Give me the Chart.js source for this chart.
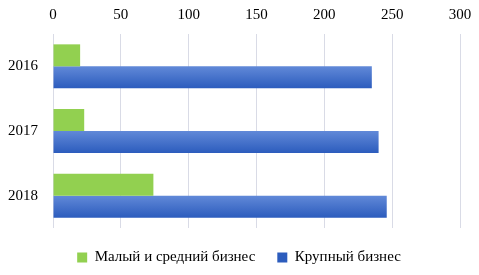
<!DOCTYPE html>
<html><head><meta charset="utf-8">
<script src="https://cdn.jsdelivr.net/npm/chart.js@4/dist/chart.umd.min.js"></script>
<style>html,body{margin:0;padding:0;background:#fff}#w{width:479px;height:275px}</style>
</head><body><div id="w"><canvas id="c"></canvas></div>
<script>
const categories = ["2016", "2017", "2018"];
const smallMediumBusiness = [20, 23, 74];
const largeBusiness = [235, 240, 246];
const seriesNames = ["Малый и средний бизнес", "Крупный бизнес"];
const xTicks = [0, 50, 100, 150, 200, 250, 300];

const CAT_PCT = 0.68;
function blueGradient(ctx) {
  const chart = ctx.chart;
  const y = chart.scales.y;
  if (!y || ctx.type !== 'data') return '#4472c4';
  const c = y.getPixelForValue(ctx.dataIndex);
  const band = Math.abs(y.getPixelForValue(1) - y.getPixelForValue(0));
  const half = band * CAT_PCT / 2;
  if (!isFinite(c) || !isFinite(half) || half <= 0) return '#4472c4';
  const g = chart.ctx.createLinearGradient(0, c, 0, c + half);
  g.addColorStop(0, '#6189d8');
  g.addColorStop(1, '#2c5cbd');
  return g;
}
const shiftLegend = {
  id: 'shiftLegend',
  afterLayout(chart) {
    const lg = chart.legend;
    if (lg) { lg.left += 12.5; lg.right += 12.5; if (lg.adjustHitBoxes) lg.adjustHitBoxes(); }
  }
};
const font = {family: "'Liberation Serif', 'Times New Roman', serif", size: 15};
new Chart(document.getElementById('c'), {
  type: 'bar',
  data: {
    labels: categories,
    datasets: [
      {label: seriesNames[0], data: smallMediumBusiness, backgroundColor: '#92d050', categoryPercentage: CAT_PCT, barPercentage: 1},
      {label: seriesNames[1], data: largeBusiness, backgroundColor: blueGradient, categoryPercentage: CAT_PCT, barPercentage: 1}
    ]
  },
  plugins: [shiftLegend],
  options: {
    indexAxis: 'y',
    responsive: true,
    maintainAspectRatio: false,
    animation: false,
    layout: {padding: {top: -3, right: 19, left: -7, bottom: 0}},
    scales: {
      x: {
        position: 'top', min: 0, max: 300,
        afterBuildTicks: s => { s.ticks = xTicks.map(v => ({value: v})); },
        afterFit: s => { s.paddingLeft = 0; s.paddingRight = 0; },
        grid: {color: '#d9dbe6', drawTicks: false},
        border: {display: false},
        ticks: {font, color: '#000', padding: 9.5}
      },
      y: {
        grid: {display: false, drawTicks: false},
        border: {display: false},
        ticks: {font, color: '#000', padding: 15}
      }
    },
    plugins: {
      legend: {
        position: 'bottom',
        labels: {font, color: '#000', boxWidth: 10, boxHeight: 10, padding: 22}
      },
      tooltip: {enabled: false}
    }
  }
});
</script></body></html>
